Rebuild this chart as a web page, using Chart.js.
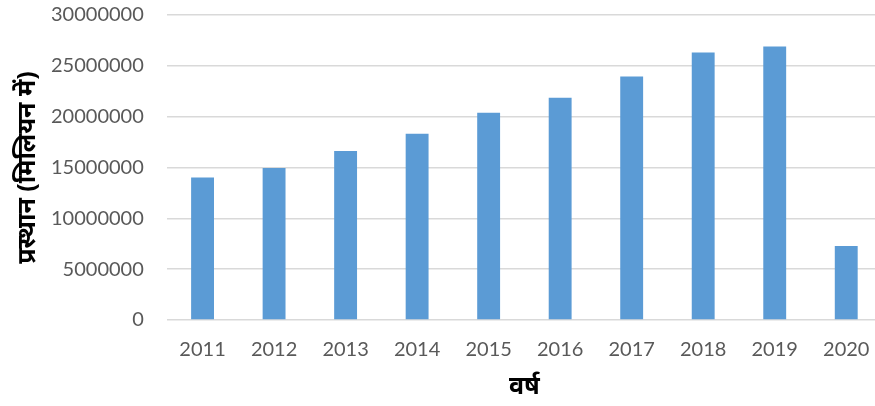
<!DOCTYPE html>
<html>
<head>
<meta charset="utf-8">
<script src="https://cdn.jsdelivr.net/npm/chart.js@4"></script>
<style>
    html, body { margin: 0; padding: 0; background: #fff; overflow: hidden; }
    #wrap { width: 890px; height: 426px; margin-top: -20px; }
</style>
</head>
<body>
<div id="wrap"><canvas id="chart"></canvas></div>
<script>
// Data
const years = ['2011', '2012', '2013', '2014', '2015', '2016', '2017', '2018', '2019', '2020'];
const departures = [14020000, 14940000, 16630000, 18330000, 20380000, 21870000, 23940000, 26300000, 26910000, 7290000];
const yTitle = 'प्रस्थान (मिलियन में)';
const xTitle = 'वर्ष';

const tickFont = { family: 'Lato, "Open Sans", sans-serif', size: 20 };
const titleFont = { family: '"Noto Sans", sans-serif', size: 25, weight: 'bold' };

new Chart(document.getElementById('chart'), {
    type: 'bar',
    data: {
        labels: years,
        datasets: [{
            data: departures,
            backgroundColor: '#5B9BD5',
            borderWidth: 0,
            categoryPercentage: 1,
            barPercentage: 0.32
        }]
    },
    options: {
        responsive: true,
        maintainAspectRatio: false,
        animation: false,
        layout: { padding: { top: 0, right: 8, bottom: 4, left: 13 } },
        plugins: {
            legend: { display: false },
            tooltip: { enabled: false }
        },
        scales: {
            x: {
                grid: { display: false },
                border: { display: false },
                ticks: { color: '#595959', font: tickFont, padding: 10 },
                title: { display: true, text: xTitle, color: '#000', font: titleFont, padding: { top: 0, bottom: 0 } }
            },
            y: {
                min: 0,
                max: 30000000,
                ticks: {
                    stepSize: 5000000,
                    color: '#595959',
                    font: tickFont,
                    padding: 23,
                    callback: function(value) {
                        return String(value);
                    }
                },
                grid: { color: '#d9d9d9', lineWidth: 1.5, drawTicks: false },
                border: { display: false },
                title: { display: true, text: yTitle, color: '#000', font: titleFont, padding: { top: 0, bottom: -15 } }
            }
        }
    }
});
</script>
</body>
</html>
